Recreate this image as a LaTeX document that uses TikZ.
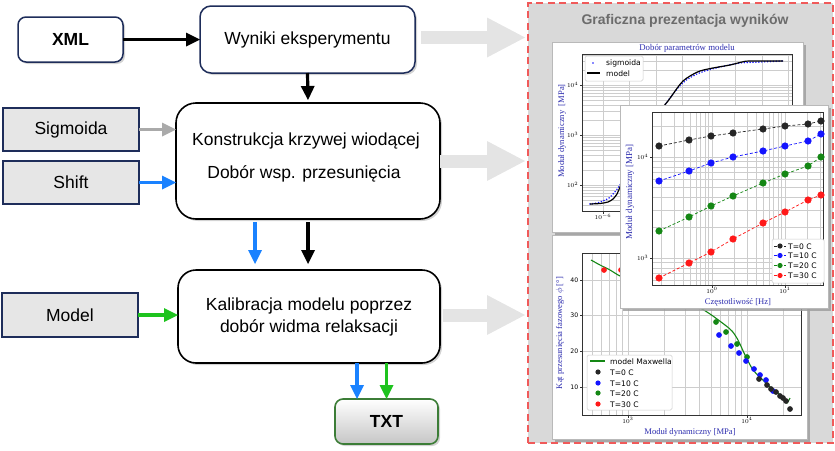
\documentclass[tikz,border=0pt]{standalone}
\usepackage{fontspec}
\setmainfont{Liberation Sans}
\newfontfamily\plotserif{Liberation Serif}
\newfontfamily\plotsans{DejaVu Sans}
\usetikzlibrary{arrows.meta,shadows,calc}

\definecolor{navy}{RGB}{30,45,90}
\definecolor{boxgray}{RGB}{230,230,230}
\definecolor{arrgray}{RGB}{170,170,170}
\definecolor{arrblue}{RGB}{26,130,255}
\definecolor{arrgreen}{RGB}{30,195,30}
\definecolor{txtgreen}{RGB}{60,125,55}
\definecolor{bigarr}{RGB}{228,228,228}
\definecolor{panelbg}{RGB}{217,217,217}
\definecolor{dashred}{RGB}{240,90,90}
\definecolor{titlegray}{RGB}{108,108,108}
\definecolor{labblue}{RGB}{45,45,175}
\definecolor{gridc}{RGB}{205,205,205}
\definecolor{pblue}{RGB}{20,20,255}
\definecolor{pgreen}{RGB}{20,135,20}
\definecolor{pred}{RGB}{255,25,25}

\tikzset{
  flowtext/.style={font=\fontsize{17.5}{22}\selectfont, align=center, inner sep=0pt, outer sep=0pt},
  boxshadow/.style={drop shadow={shadow xshift=2pt, shadow yshift=-2pt, opacity=0.35}},
  srcbox/.style={flowtext, draw=navy, line width=1.5pt, fill=white, boxshadow},
  procbox/.style={flowtext, draw=black, line width=1.6pt, fill=white, boxshadow},
  parambox/.style={flowtext, draw=navy, line width=1.5pt, fill=boxgray, minimum width=136pt, minimum height=43pt},
  outbox/.style={flowtext, draw=txtgreen, line width=1.6pt, top color=white, bottom color=gray!45,
                 rounded corners=8pt, boxshadow, font=\fontsize{17.5}{20}\selectfont\bfseries},
  conn/.style={line width=3.2pt, -{Triangle[length=14pt,width=14pt,line width=0pt]}},
  bigarrow/.style={bigarr, line width=13pt, shorten >=3pt, -{Triangle[length=38pt,width=40pt,line width=0pt]}},
  plotpanel/.style={fill=white, draw=gray!55, line width=0.4pt},
  panshadow/.style={fill=gray!75, opacity=0.85},
  gridl/.style={gridc, line width=0.45pt},
  axframe/.style={draw=black!80, line width=0.6pt},
  ticklab/.style={font=\fontsize{6}{7}\selectfont, inner sep=0.5pt},
  axlab/.style={font=\plotserif\fontsize{8.6}{10}\selectfont, text=labblue, inner sep=0pt},
  legbox/.style={fill=white, draw=gray!40, line width=0.5pt, rounded corners=1.5pt},
  legtxt/.style={font=\plotsans\fontsize{7.6}{9}\selectfont, inner sep=0pt, anchor=west},
  series/.style={#1, densely dashed, line width=0.7pt, mark=*, mark size=3.2pt, mark options={solid, fill=#1, draw=#1}},
  dots/.style={#1, mark=*, mark size=2.6pt, mark options={fill=#1, draw=#1}, only marks},
}

\begin{document}
\begin{tikzpicture}[x=1pt,y=-1pt]
\useasboundingbox (0,0) rectangle (835,450);

% ---------------- flow chart ----------------
\node[srcbox, rounded corners=8pt, minimum width=105pt, minimum height=45pt, font=\fontsize{17.5}{20}\selectfont\bfseries] (xml) at (70.5,39.5) {XML};
\node[srcbox, rounded corners=11pt, minimum width=215pt, minimum height=67pt] (wyn) at (307.5,39.5) {Wyniki eksperymentu};

\node[procbox, rounded corners=20pt, minimum width=264pt, minimum height=116pt] (kon) at (308,161) {};
\node[flowtext] (kon1) at (306,141) {Konstrukcja krzywej wiodącej};
\node[flowtext] (kon2) at (304,174) {Dobór wsp. przesunięcia};

\node[procbox, rounded corners=18pt, minimum width=262pt, minimum height=93pt] (kal) at (309,316.5)
  {Kalibracja modelu poprzez\\dobór widma relaksacji};

\node[parambox] (sig) at (71,129.5) {Sigmoida};
\node[parambox] (shi) at (71,182.5) {Shift};
\node[parambox, minimum height=44pt] (mod) at (70,315) {Model};

\node[outbox, minimum width=103pt, minimum height=45pt] (txt) at (386.5,421.5) {TXT};

\coordinate (bx) at (255,0);
\coordinate (kx) at (308,0);
\coordinate (tb) at (357,0);

\draw[conn] (xml.east) -- (wyn.west);
\draw[conn] (wyn.south) -- ([yshift=3pt]kon.north);
\draw[conn, arrgray] (sig.east) -- (sig.east -| kon.west);
\draw[conn, arrblue] (shi.east) -- (shi.east -| kon.west);
\draw[conn, arrblue] ([yshift=-3pt]kon.south -| bx) -- ([yshift=6pt]kal.north -| bx);
\draw[conn] ([yshift=-3pt]kon.south -| kx) -- ([yshift=6pt]kal.north -| kx);
\draw[conn, arrgreen] (mod.east) -- (mod.east -| kal.west);
\draw[conn, arrblue] (kal.south -| tb) -- (txt.north -| tb);
\draw[conn, arrgreen] (kal.south -| txt.north) -- (txt.north);

% ---------------- results panel ----------------
\node[fill=panelbg, draw=dashred, line width=2.5pt, dash pattern=on 7pt off 4.5pt,
      minimum width=305pt, minimum height=440pt, inner sep=0pt, outer sep=0pt] (panel) at (680.5,223) {};
\node[font=\fontsize{14}{16}\selectfont\bfseries, text=titlegray, inner sep=0pt] (gtitle) at (685,21)
  {Graficzna prezentacja wyników};

\draw[bigarrow] ([xshift=6pt]wyn.east) ++(0,-2) -- ($(wyn.east -| panel.west)+(0,-2)$);
\draw[bigarrow] (kon.east) -- (kon.east -| panel.west);
\draw[bigarrow] ([xshift=3pt]kal.east) ++(0,-1.5) -- ($(kal.east -| panel.west)+(0,-1.5)$);

% ===== plot 1: master curve =====
\fill[panshadow] (555,45) rectangle (806,235);
\filldraw[plotpanel] (552,42) rectangle (803,232);
\node[font=\plotserif\fontsize{8.8}{10}\selectfont, text=labblue, inner sep=0pt] (p1title) at (687,48) {Dobór parametrów modelu};
\begin{scope}
  \clip (582,54) rectangle (792,211);
  \foreach \i in {0,...,7} \draw[gridl] ({603+26.5*\i},54) -- ++(0,157);
  \foreach \d in {1,2,3,4} \foreach \k in {1,...,9}
    \draw[gridl] (582,{285-50*(\d+ln(\k)/ln(10))}) -- ++(210,0);
\end{scope}
\draw[axframe] (582,54) rectangle (792,211);
\foreach \yy/\ee in {85/4,135/3,185/2} {
  \draw[black!80, line width=0.5pt] (582,\yy) -- ++(-2.5,0);
  \node[ticklab, anchor=east] (p1y\ee) at (579,\yy) {$10^{\ee}$};
}
\draw[black!80, line width=0.5pt] (603,211) -- ++(0,2.5);
\node[ticklab, anchor=north] (p1x) at (603,213) {$10^{-6}$};
\node[axlab, rotate=90] (p1ylab) at (562,131) {Moduł dynamiczny \ [MPa]};
\draw[pblue, line width=1.7pt, line cap=round, dash pattern=on 0pt off 2.9pt] plot[smooth] coordinates {
  (590,204) (597,203) (603,201) (609,198) (614,193) (618,188) (621,183) (630,165) (645,135)
  (657,116) (664,106) (670,98) (677,89) (685,81) (695,75) (705,71) (720,67) (740,63) (760,62) (783,61)};
\draw[black, line width=1.2pt] plot[smooth] coordinates {
  (590,204) (600,203.5) (608,202) (613,199) (617,194) (620,187) (624,178) (635,155) (648,128)
  (657,115) (663,107) (668,101) (673,94) (678,87) (683,81) (690,76) (700,71) (713,68) (730,65)
  (742,62) (750,61) (783,61)};
\filldraw[legbox] (585,56) rectangle (643,81);
\fill[pblue] (593,63) circle[radius=0.9pt];
\node[legtxt] (p1l1) at (606,63.5) {sigmoida};
\draw[black, line width=1.2pt] (587,73) -- (600,73);
\node[legtxt] (p1l2) at (606,73.5) {model};

% ===== plot 3: phase angle =====
\fill[panshadow] (555,238) rectangle (810,442);
\filldraw[plotpanel] (552,235) rectangle (807,439);
\begin{scope}
  \clip (582,253) rectangle (801,415);
  \foreach \d in {2,3,4} \foreach \k in {1,...,9}
    \draw[gridl] ({628+119*(\d-3+ln(\k)/ln(10))},253) -- ++(0,162);
  \foreach \v in {10,20,30,40} \draw[gridl] (582,{422.8-3.57*\v}) -- ++(219,0);
\end{scope}
\draw[axframe] (582,253) rectangle (801,415);
\foreach \v in {10,20,30,40} {
  \draw[black!80, line width=0.5pt] (582,{422.8-3.57*\v}) -- ++(-2.5,0);
  \node[ticklab, anchor=east, font=\plotsans\fontsize{6.2}{7}\selectfont] (p3y\v) at (579,{422.8-3.57*\v}) {\v};
}
\foreach \xx/\ee in {628/3,747/4} {
  \draw[black!80, line width=0.5pt] (\xx,415) -- ++(0,2.5);
  \node[ticklab, anchor=north] (p3x\ee) at (\xx,417) {$10^{\ee}$};
}
\node[axlab] (p3xlab) at (690,432) {Moduł dynamiczny [MPa]};
\node[axlab, rotate=90] (p3ylab) at (560,333) {Kąt przesunięcia fazowego $\phi$ [°]};
\draw[pgreen, line width=1.1pt] plot[smooth] coordinates {
  (591,260) (600,265) (610,270) (620,276) (640,285) (660,293) (680,300) (700,308) (710,314)
  (717,319) (725,325) (732,331) (738,340) (745,355) (753,370) (760,377) (770,387) (778,393)
  (785,400) (787,403) (790,398)};
\draw[dots=pred] plot coordinates {(604,270) (621,270)};
\draw[dots=pgreen] plot coordinates {(716,322) (726,332) (737,344) (747,357)};
\draw[dots=pblue] plot coordinates {(719,335) (731,346) (739,353) (746,361) (754,369) (760,375) (766,380) (773,391)};
\draw[dots=black!85] plot coordinates {(759,379) (767,385) (771,389) (776,392) (780,396) (783,398) (786,401) (790,409)};
\filldraw[legbox] (587,355) rectangle (672,410);
\draw[pgreen, line width=1.1pt] (590,361) -- (605,361);
\node[legtxt] (p3l0) at (610,361.5) {model Maxwella};
\foreach \c/\t/\yy [count=\n] in {black!85/T=0 C/372, pblue/T=10 C/383, pgreen/T=20 C/393, pred/T=30 C/404} {
  \fill[\c] (598,\yy) circle[radius=2.6pt];
  \node[legtxt] (p3l\n) at (610,\yy+0.5) {\t};
}

% ===== plot 2: dynamic modulus vs frequency =====
\fill[panshadow] (623,108) rectangle (831,311);
\filldraw[plotpanel] (620,105) rectangle (828,308);
\begin{scope}
  \clip (652,112) rectangle (823,285);
  \foreach \d in {-1,0,1} \foreach \k in {1,...,9}
    \draw[gridl] ({712+73*(\d+ln(\k)/ln(10))},112) -- ++(0,173);
  \foreach \d in {2,3,4} \foreach \k in {1,...,9}
    \draw[gridl] (652,{561-101*(\d+ln(\k)/ln(10))}) -- ++(171,0);
\end{scope}
\draw[axframe] (652,112) rectangle (823,285);
\foreach \yy/\ee in {157/4,258/3} {
  \draw[black!80, line width=0.5pt] (652,\yy) -- ++(-2.5,0);
  \node[ticklab, anchor=east] (p2y\ee) at (649,\yy) {$10^{\ee}$};
}
\foreach \xx/\ee in {712/0,785/1} {
  \draw[black!80, line width=0.5pt] (\xx,285) -- ++(0,2.5);
  \node[ticklab, anchor=north] (p2x\ee) at (\xx,287) {$10^{\ee}$};
}
\node[axlab] (p2xlab) at (738,302) {Częstotliwość [Hz]};
\node[axlab, rotate=90, font=\plotserif\fontsize{9}{10}\selectfont] (p2ylab) at (630,192) {Moduł dynamiczny [MPa]};
\draw[series=black!85] plot coordinates {(659,146) (689,140) (711,136) (733,133) (763,129) (785,126) (808,124) (821,121)};
\draw[series=pblue] plot coordinates {(659,181) (689,171) (711,163) (733,157) (763,151) (785,146) (808,141) (821,134)};
\draw[series=pgreen] plot coordinates {(659,231) (689,217) (711,206) (733,196) (763,183) (785,174) (808,166) (821,157)};
\draw[series=pred] plot coordinates {(659,278) (689,263) (711,252) (733,239) (763,223) (785,212) (808,200) (821,195)};
\filldraw[legbox] (772,239) rectangle (824,283);
\foreach \c/\t/\yy [count=\n] in {black!85/T=0 C/246, pblue/T=10 C/255.5, pgreen/T=20 C/265.5, pred/T=30 C/275.5} {
  \draw[\c, densely dashed, line width=0.7pt] (774,\yy) -- (786,\yy);
  \fill[\c] (780,\yy) circle[radius=2.6pt];
  \node[legtxt] (p2l\n) at (788,\yy+0.5) {\t};
}
\end{tikzpicture}
\end{document}
